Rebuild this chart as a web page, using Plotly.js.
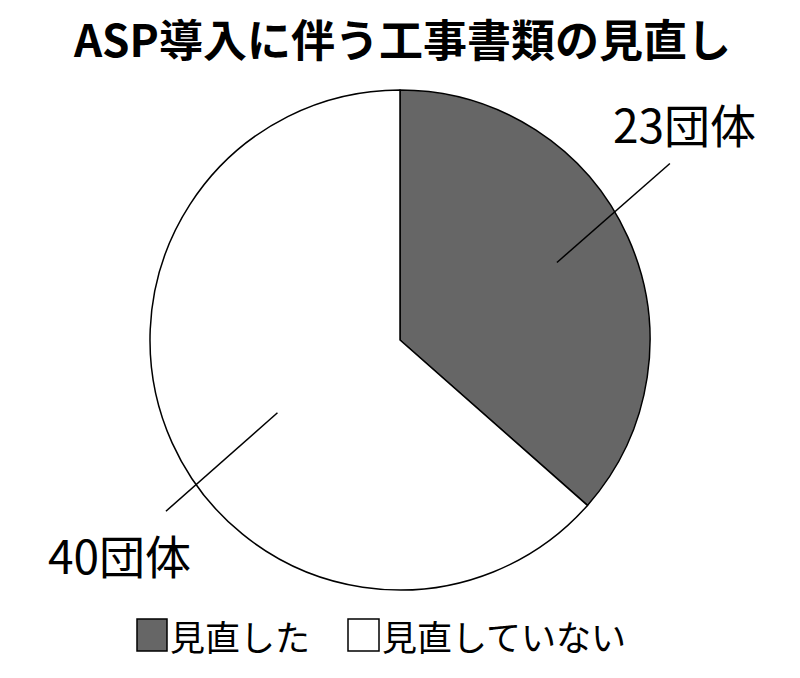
<!DOCTYPE html>
<html><head><meta charset="utf-8">
<script src="https://cdn.plot.ly/plotly-3.0.1.min.js"></script>
<style>body{margin:0;background:#fff}#chart{width:800px;height:678px}</style>
</head><body><div id="chart"></div>
<script>
// ---- data ----
const chartTitle = 'ASP導入に伴う工事書類の見直し';
const categories = ['見直した', '見直していない'];
const counts = [23, 40];
const unit = '団体';

// ---- style ----
const W = 800, H = 678;
const colors = ['#666666', '#ffffff'];
const FONT = '"Noto Sans CJK JP", "Noto Sans", sans-serif';
const cx = 400, cy = 340, R = 250;
// leader line / label geometry per slice (angle offsets in degrees from slice mid, radii as fraction of R)
const leadIn = [{d: -2, r: 0.70}, {d: -6.4, r: 0.57}];
const leadOut = [{d: -8.9, r: 1.29}, {d: -11.9, r: 1.16}];
const labelPos = [{d: -13.1, r: 1.43}, {d: -13.1, r: 1.41}];

const total = counts.reduce((a, b) => a + b, 0);
function pt(angDeg, rf) {
  const a = angDeg * Math.PI / 180;
  const px = cx + R * rf * Math.sin(a);
  const py = cy - R * rf * Math.cos(a);
  return [px / W, 1 - py / H];
}
const shapes = [], annotations = [];
let cum = 0;
counts.forEach((v, i) => {
  const mid = (cum + v / 2) / total * 360;
  cum += v;
  const p0 = pt(mid + leadIn[i].d, leadIn[i].r);
  const p1 = pt(mid + leadOut[i].d, leadOut[i].r);
  shapes.push({type: 'line', xref: 'paper', yref: 'paper', x0: p0[0], y0: p0[1], x1: p1[0], y1: p1[1],
    line: {color: '#000', width: 1.5}});
  const pl = pt(mid + labelPos[i].d, labelPos[i].r);
  annotations.push({xref: 'paper', yref: 'paper', x: pl[0], y: pl[1], xanchor: 'center', yanchor: 'middle',
    text: v + unit, showarrow: false, font: {family: FONT, size: 46, color: '#000'}});
});

// custom legend
const legendY = 635, legendBoxes = [[137, 167], [348, 379]];
categories.forEach((c, i) => {
  const [x0, x1] = legendBoxes[i];
  shapes.push({type: 'rect', xref: 'paper', yref: 'paper', x0: x0 / W, x1: x1 / W,
    y0: 1 - (legendY + 16) / H, y1: 1 - (legendY - 16) / H,
    fillcolor: colors[i], line: {color: '#000', width: 1.5}});
  annotations.push({xref: 'paper', yref: 'paper', x: (x1 + 1) / W, y: 1 - legendY / H, xanchor: 'left', yanchor: 'middle',
    text: c, showarrow: false, font: {family: FONT, size: 35, color: '#000'}});
});

const trace = {
  type: 'pie', values: counts, labels: categories, sort: false, direction: 'clockwise', rotation: 0,
  marker: {colors: colors, line: {color: '#000', width: 1.5}},
  textinfo: 'none', hoverinfo: 'label+value', showlegend: false,
  domain: {x: [0, 1], y: [1 - (cy + R) / H, 1 - (cy - R) / H]}
};

const layout = {
  width: W, height: H, margin: {l: 0, r: 0, t: 0, b: 0},
  paper_bgcolor: '#fff', plot_bgcolor: '#fff', showlegend: false,
  title: {text: chartTitle, x: 0.503, xanchor: 'center', y: 1 - 42 / H, yanchor: 'middle', yref: 'container',
    font: {family: FONT, size: 44, color: '#000', weight: 'bold'}},
  shapes: shapes, annotations: annotations
};
Plotly.newPlot('chart', [trace], layout, {staticPlot: true});
</script></body></html>
